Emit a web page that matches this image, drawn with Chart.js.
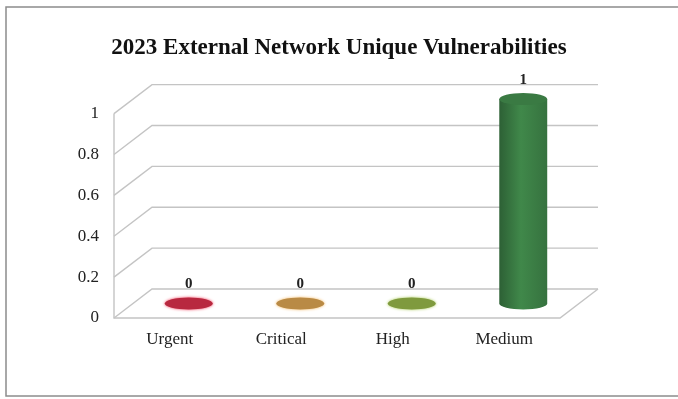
<!DOCTYPE html>
<html>
<head>
<meta charset="utf-8">
<script src="https://cdn.jsdelivr.net/npm/chart.js@4.4.1/dist/chart.umd.min.js"></script>
<style>
  html, body { margin: 0; padding: 0; background: #fff; }
  canvas { display: block; }
</style>
</head>
<body>
<canvas id="chartVulns" width="678" height="399"></canvas>
<script>
const categories = ['Urgent', 'Critical', 'High', 'Medium'];
const counts = [0, 0, 0, 1];
const barColors = ['#b8283f', '#b98a45', '#7f9a3e', '#3f8549'];
const yTicks = ['0', '0.2', '0.4', '0.6', '0.8', '1'];

const serif = '"Liberation Serif", "DejaVu Serif", serif';

// depth of the fake 3d box (front -> back)
const DX = 38, DY = -29;

const shade = (hex, f) => {
    const n = parseInt(hex.slice(1), 16);
    let r = (n >> 16) & 255, g = (n >> 8) & 255, b = n & 255;
    r = Math.min(255, Math.round(r * f));
    g = Math.min(255, Math.round(g * f));
    b = Math.min(255, Math.round(b * f));
    return `rgb(${r}, ${g}, ${b})`;
}

const box3d = {
    id: 'box3d',
    beforeDraw(chart) {
        const ctx = chart.ctx;
        ctx.save();
        ctx.fillStyle = '#fff';
        ctx.fillRect(0, 0, chart.width, chart.height);
        ctx.strokeStyle = '#8c8c8c';
        ctx.lineWidth = 1.5;
        ctx.strokeRect(6, 7, 700, 389);
        ctx.restore();
    },
    beforeDatasetsDraw(chart) {
        const ctx = chart.ctx;
        const yS = chart.scales.y;
        const a = chart.chartArea;
        ctx.save();
        ctx.strokeStyle = '#c4c4c4';
        ctx.lineWidth = 1.4;
        yS.ticks.forEach(t => {
            const y = yS.getPixelForValue(t.value);
            ctx.beginPath();
            ctx.moveTo(a.left, y);
            ctx.lineTo(a.left + DX, y + DY);
            ctx.lineTo(a.right + DX, y + DY);
            ctx.stroke();
        });
        // front left edge + floor
        ctx.beginPath();
        ctx.moveTo(a.left, yS.getPixelForValue(1));
        ctx.lineTo(a.left, a.bottom);
        ctx.lineTo(a.right, a.bottom);
        ctx.lineTo(a.right + DX, a.bottom + DY);
        ctx.stroke();
        ctx.restore();
    },
    afterDatasetsDraw(chart) {
        const ctx = chart.ctx;
        const meta = chart.getDatasetMeta(0);
        ctx.save();
        meta.data.forEach((bar, i) => {
            const p = bar.getProps(['x', 'y', 'base', 'width'], true);
            const cx = p.x + DX / 2;
            const top = p.y + DY / 2;
            const bottom = p.base + DY / 2;
            const rx = p.width / 2;
            const ry = 6;
            const col = barColors[i];
            if (bottom - top > 1) {
                const g = ctx.createLinearGradient(cx - rx, 0, cx + rx, 0);
                g.addColorStop(0, shade(col, 0.72));
                g.addColorStop(0.45, shade(col, 1.02));
                g.addColorStop(1, shade(col, 0.86));
                ctx.fillStyle = g;
                ctx.beginPath();
                ctx.moveTo(cx - rx, top);
                ctx.lineTo(cx - rx, bottom);
                ctx.ellipse(cx, bottom, rx, ry, 0, Math.PI, 0, true);
                ctx.lineTo(cx + rx, top);
                ctx.closePath();
                ctx.fill();
                ctx.fillStyle = shade(col, 0.92);
                ctx.beginPath();
                ctx.ellipse(cx, top, rx, ry, 0, 0, Math.PI * 2);
                ctx.fill();
            } else {
                ctx.shadowColor = shade(col, 1.3);
                ctx.shadowBlur = 3;
                ctx.fillStyle = col;
                ctx.beginPath();
                ctx.ellipse(cx, bottom, rx, ry, 0, 0, Math.PI * 2);
                ctx.fill();
                ctx.shadowBlur = 0;
            }
            ctx.fillStyle = '#222';
            ctx.font = 'bold 15px ' + serif;
            ctx.textAlign = 'center';
            ctx.textBaseline = 'middle';
            ctx.fillText(String(counts[i]), cx, top - 19);
        });
        ctx.restore();
    }
}

const chartVulns = new Chart(document.getElementById('chartVulns'), {
    type: 'bar',
    data: {
        labels: categories,
        datasets: [{
            data: counts,
            backgroundColor: 'rgba(0,0,0,0)',
            borderWidth: 0,
            barPercentage: 0.43,
            categoryPercentage: 1
        }]
    },
    options: {
        responsive: false,
        animation: false,
        layout: { padding: { left: 0, right: 0, top: 0, bottom: 41 } },
        plugins: {
            legend: { display: false },
            tooltip: { enabled: false },
            title: {
                display: true,
                text: '2023 External Network Unique Vulnerabilities',
                color: '#111',
                font: { family: serif, size: 23, weight: 'bold', lineHeight: 1.2 },
                padding: { top: 34, bottom: 52 }
            }
        },
        scales: {
            x: {
                grid: { display: false, drawTicks: false },
                border: { display: false },
                ticks: { color: '#222', font: { family: serif, size: 17 }, padding: 11 },
                afterFit: s => { s.height = 40; }
            },
            y: {
                min: 0,
                max: 1,
                grid: { display: false, drawTicks: false },
                border: { display: false },
                ticks: {
                    stepSize: 0.2,
                    color: '#222',
                    font: { family: serif, size: 17 },
                    padding: 15,
                    callback: (v, i) => yTicks[i]
                },
                afterFit: s => { s.width = 114; }
            },
            // empty right-hand axis: keeps room for the back wall of the box
            yRight: {
                position: 'right',
                grid: { display: false, drawTicks: false },
                border: { display: false },
                ticks: { display: false },
                afterFit: s => { s.width = 118; }
            }
        }
    },
    plugins: [box3d]
});
</script>
</body>
</html>
